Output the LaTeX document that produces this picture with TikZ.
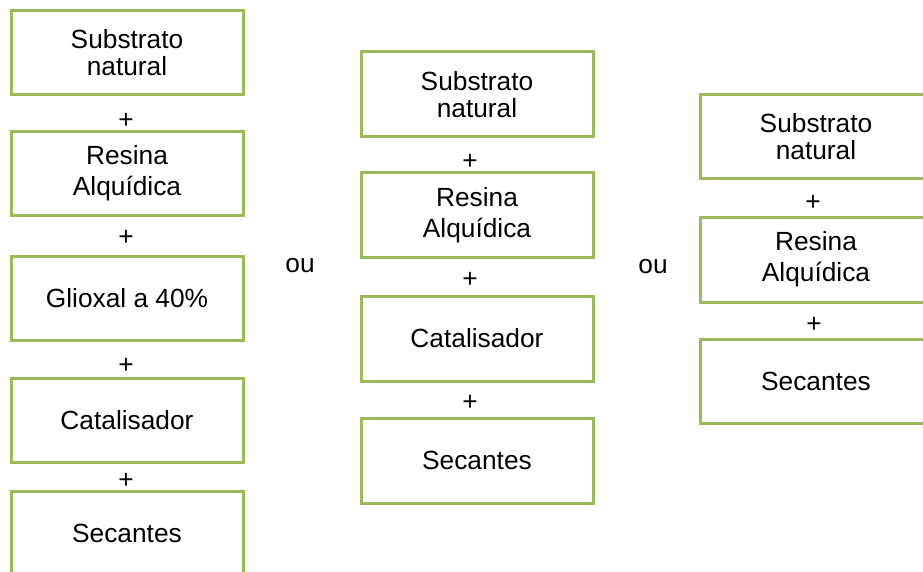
\documentclass[tikz,border=0pt]{standalone}
\usepackage{fontspec}
\setmainfont{Liberation Sans}
\definecolor{boxgreen}{HTML}{9BBB59}
\tikzset{
  x=1pt, y=-1pt,
  stepbox/.style={draw=boxgreen, line width=3pt, fill=white, rectangle,
    minimum width=232pt, minimum height=84pt, inner sep=0pt, align=center,
    font=\fontsize{26.3}{27}\selectfont},
  widebox/.style={stepbox, font=\fontsize{26.3}{31}\selectfont},
  plus/.style={inner sep=0pt, font=\fontsize{26.3}{27}\selectfont},
  ortext/.style={inner sep=0pt, font=\fontsize{26.3}{27}\selectfont}
}
\begin{document}
\begin{tikzpicture}
\useasboundingbox (0,0) rectangle (923,572);
\clip (0,0) rectangle (923,572);
% column 1
\node[stepbox] (a1) at (127,53) {Substrato\\natural};
\node[widebox, minimum height=83pt] (a2) at (127,173.5) {Resina\\Alquídica};
\node[stepbox] (a3) at (127,298) {Glioxal a 40\%};
\node[stepbox] (a4) at (127,420) {Catalisador};
\node[stepbox] (a5) at (127,533) {Secantes};
\node[plus] (pa1) at (126,121) {+};
\node[plus] (pa2) at (126,238) {+};
\node[plus] (pa3) at (126,366) {+};
\node[plus] (pa4) at (126,481) {+};
% or
\node[ortext] (or1) at (300,266) {ou};
\node[ortext] (or2) at (653,267) {ou};
% column 2
\node[stepbox, minimum height=85pt] (b1) at (477,94.5) {Substrato\\natural};
\node[widebox] (b2) at (477,215) {Resina\\Alquídica};
\node[stepbox, minimum height=85pt] (b3) at (477,338.5) {Catalisador};
\node[stepbox, minimum height=85pt] (b4) at (477,460.5) {Secantes};
\node[plus] (pb1) at (470,162) {+};
\node[plus] (pb2) at (470,280) {+};
\node[plus] (pb3) at (470,403) {+};
% column 3
\node[stepbox] (c1) at (816,137) {Substrato\\natural};
\node[widebox, minimum height=85pt] (c2) at (816,259.5) {Resina\\Alquídica};
\node[stepbox] (c3) at (816,381) {Secantes};
\node[plus] (pc1) at (813,203) {+};
\node[plus] (pc2) at (814,325) {+};
\end{tikzpicture}
\end{document}
